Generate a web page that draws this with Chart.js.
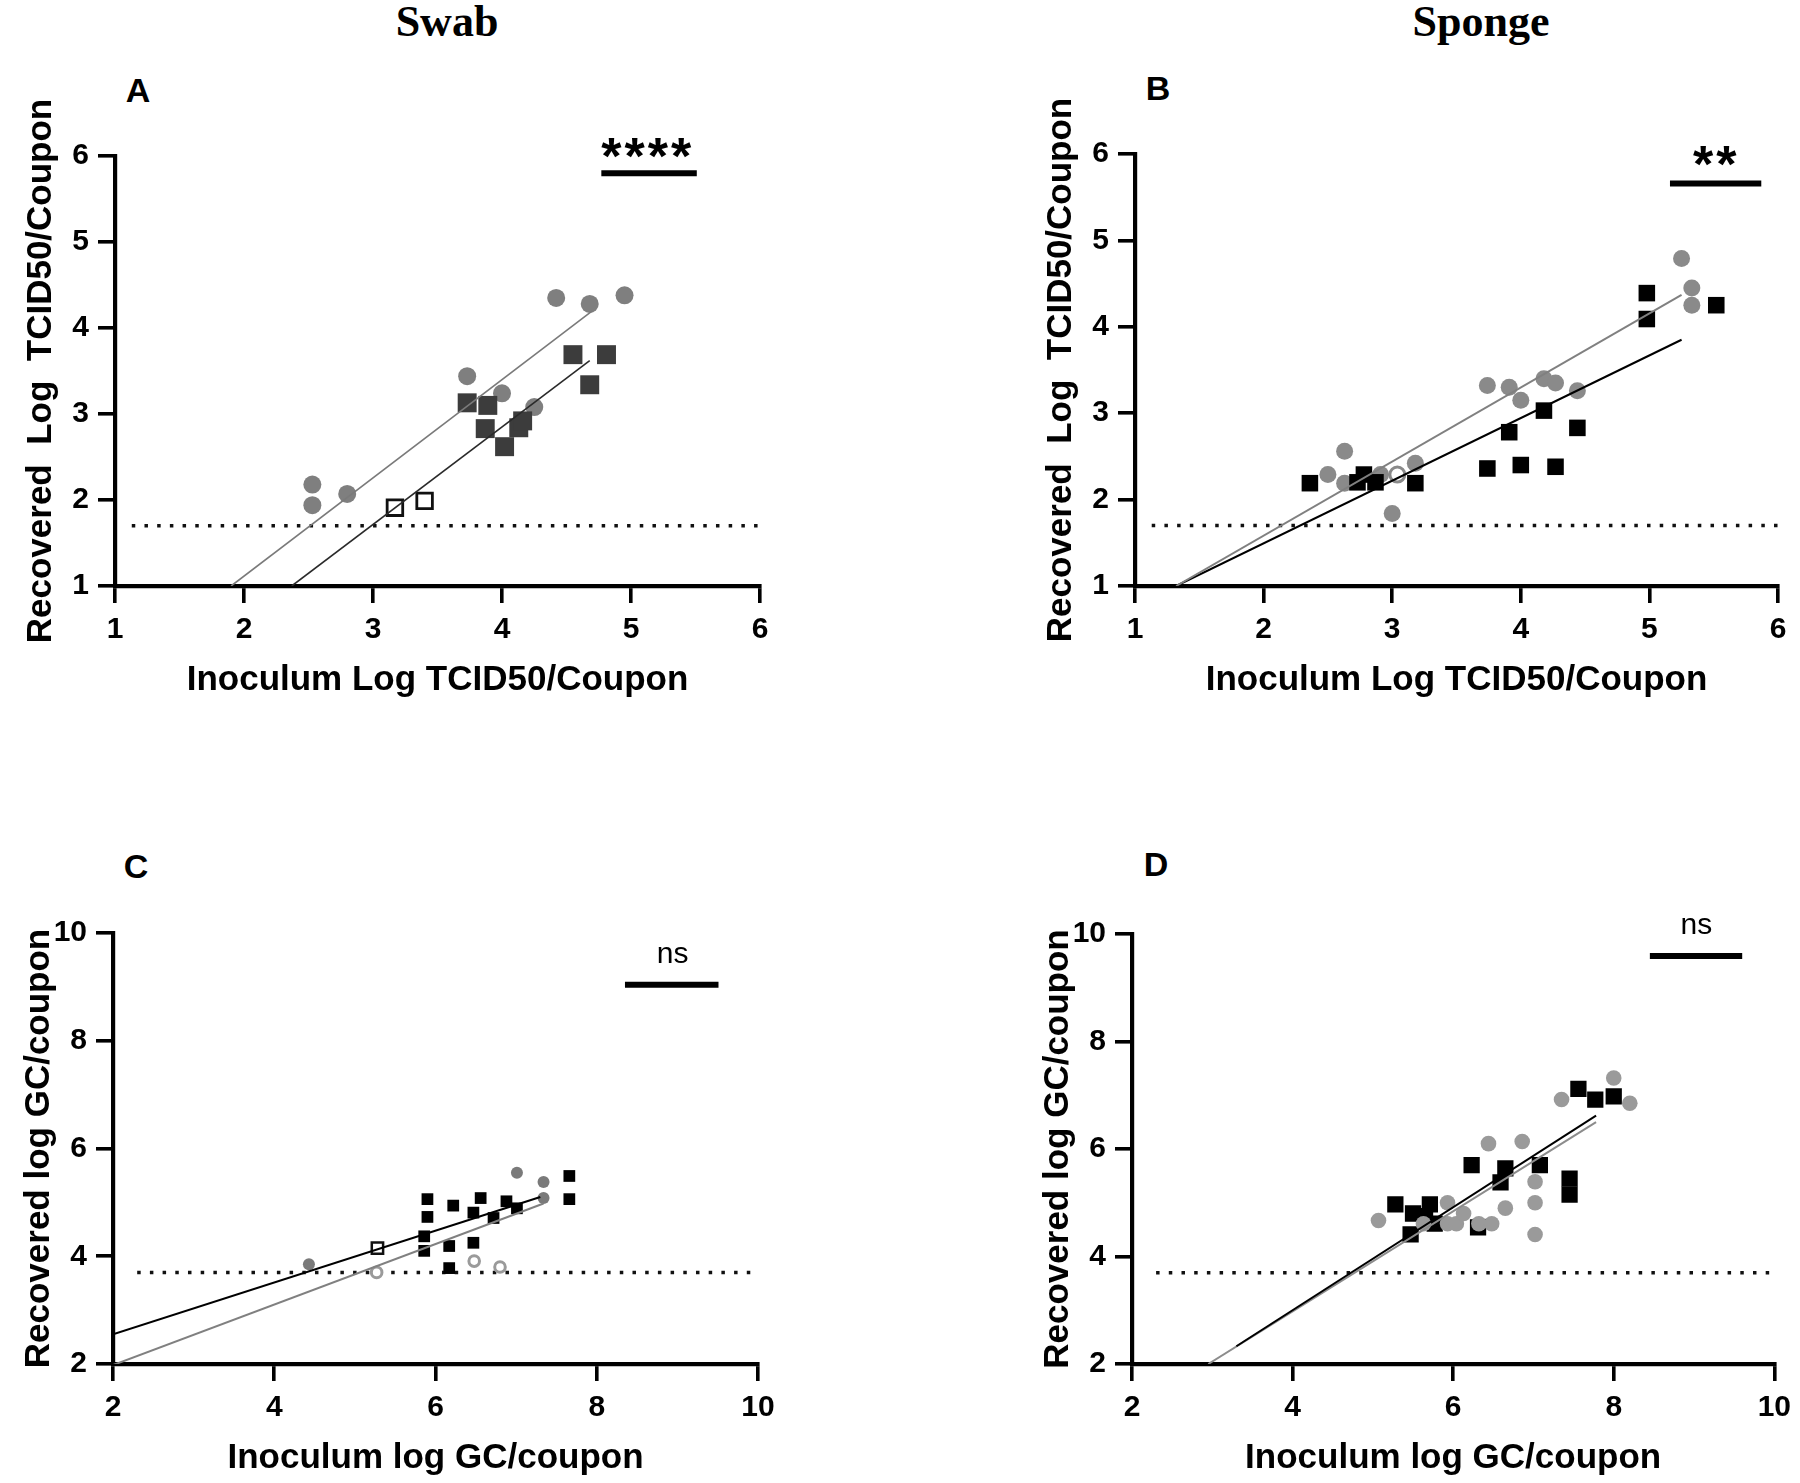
<!DOCTYPE html>
<html>
<head>
<meta charset="utf-8">
<script src="https://cdn.jsdelivr.net/npm/chart.js@4.4.0/dist/chart.umd.min.js"></script>
<style>
  html, body { margin: 0; padding: 0; background: #fff; }
  #page { position: relative; width: 1800px; height: 1483px; overflow: hidden; background: #fff; }
  canvas { position: absolute; }
  .head { position: absolute; font-family: 'Liberation Serif', 'Times New Roman', serif; font-weight: bold; font-size: 44px; line-height: 44px; transform: translateX(-50%); white-space: nowrap; }
  .letter { position: absolute; font-family: 'Liberation Sans', Arial, sans-serif; font-weight: bold; font-size: 34px; line-height: 34px; transform: translateX(-50%); }
</style>
</head>
<body>
<div id="page">
  <div class="head" style="left:447px; top:0px">Swab</div>
  <div class="head" style="left:1481px; top:0px">Sponge</div>
  <div class="letter" style="left:138px; top:73px">A</div>
  <div class="letter" style="left:1158px; top:71px">B</div>
  <div class="letter" style="left:136px; top:849px">C</div>
  <div class="letter" style="left:1156px; top:847px">D</div>
  <canvas id="chartA" width="900" height="741" style="left:0px; top:0px"></canvas>
  <canvas id="chartB" width="900" height="741" style="left:900px; top:0px"></canvas>
  <canvas id="chartC" width="900" height="742" style="left:0px; top:741px"></canvas>
  <canvas id="chartD" width="900" height="742" style="left:900px; top:741px"></canvas>
</div>
<script>
// A - swab, TCID50
const aCircleX = [2.53, 2.53, 2.80, 3.73, 4.00, 4.25, 4.42, 4.68, 4.95];
const aCircleY = [2.18, 1.94, 2.07, 3.44, 3.24, 3.08, 4.35, 4.28, 4.38];
const aSquareX = [3.73, 3.89, 3.87, 4.02, 4.13, 4.16, 4.55, 4.81, 4.68];
const aSquareY = [3.13, 3.10, 2.83, 2.62, 2.84, 2.92, 3.69, 3.69, 3.34];
const aOpenSquareX = [3.17, 3.40];
const aOpenSquareY = [1.91, 1.99];
const aGrayFitX = [1.90, 4.70];
const aGrayFitY = [1.00, 4.20];
const aDarkFitX = [2.37, 4.68];
const aDarkFitY = [1.00, 3.62];

// B - sponge, TCID50
const bCircleX = [2.50, 2.63, 2.63, 2.91, 3.18, 3.00, 3.74, 3.91, 4.00, 4.18, 4.27, 4.44, 5.25, 5.33, 5.33];
const bCircleY = [2.29, 2.56, 2.19, 2.29, 2.42, 1.84, 3.32, 3.30, 3.15, 3.40, 3.35, 3.26, 4.79, 4.45, 4.25];
const bOpenCircleX = [3.04];
const bOpenCircleY = [2.29];
const bSquareX = [2.36, 2.73, 2.78, 2.87, 3.18, 3.74, 4.00, 4.27, 3.91, 4.18, 4.44, 4.98, 4.98, 5.52];
const bSquareY = [2.19, 2.20, 2.29, 2.20, 2.19, 2.36, 2.40, 2.38, 2.78, 3.03, 2.83, 4.39, 4.09, 4.25];
const bGrayFitX = [1.32, 5.25];
const bGrayFitY = [1.00, 4.37];
const bBlackFitX = [1.32, 5.25];
const bBlackFitY = [1.00, 3.85];

// C - swab, GC
const cCircleX = [4.43, 7.01, 7.34, 7.34];
const cCircleY = [3.85, 5.55, 5.38, 5.08];
const cOpenCircleX = [5.27, 6.48, 6.80];
const cOpenCircleY = [3.70, 3.91, 3.80];
const cSquareX = [5.90, 5.90, 5.86, 5.86, 6.17, 6.17, 6.22, 6.47, 6.47, 6.56, 6.72, 6.88, 7.01, 7.66, 7.66];
const cSquareY = [5.06, 4.73, 4.37, 4.10, 4.19, 3.78, 4.94, 4.81, 4.25, 5.08, 4.71, 5.02, 4.89, 5.49, 5.06];
const cOpenSquareX = [5.28];
const cOpenSquareY = [4.15];
const cBlackFitX = [2.00, 7.30];
const cBlackFitY = [2.55, 5.10];
const cGrayFitX = [2.00, 7.34];
const cGrayFitY = [1.98, 4.98];

// D - sponge, GC
const dSquareX = [5.28, 5.47, 5.50, 5.71, 5.77, 5.65, 6.23, 6.31, 6.59, 6.65, 7.08, 7.45, 7.45, 7.56, 7.77, 8.00];
const dSquareY = [4.97, 4.41, 4.80, 4.97, 4.61, 4.75, 5.70, 4.54, 5.38, 5.64, 5.70, 5.45, 5.15, 7.12, 6.92, 6.98];
const dCircleX = [5.07, 5.63, 5.93, 5.93, 6.04, 6.13, 6.32, 6.48, 6.44, 6.65, 6.86, 7.02, 7.02, 7.02, 7.35, 8.00, 8.20];
const dCircleY = [4.67, 4.61, 5.00, 4.61, 4.61, 4.80, 4.61, 4.61, 6.10, 4.90, 6.14, 5.39, 5.00, 4.41, 6.92, 7.32, 6.85];
const dGrayFitX = [2.95, 7.78];
const dGrayFitY = [2.00, 6.50];
const dBlackFitX = [3.30, 7.78];
const dBlackFitY = [2.33, 6.62];

// detection limits (dotted)
const tcidLimitX = [1.13, 6.0];
const tcidLimitY = [1.7, 1.7];
const gcLimitX = [2.3, 10.0];
const gcLimitY = [3.7, 3.7];

const sans = "'Liberation Sans', Arial, sans-serif";
const tickFont = { family: sans, size: 30, weight: 'bold' };
const titleFont = { family: sans, size: 35, weight: 'bold' };

function pts(xs, ys) {
  return xs.map((x, i) => ({ x: x, y: ys[i] }));
}

function marks(xs, ys, style, radius, fill, stroke, bw) {
  return {
    data: pts(xs, ys),
    pointStyle: style,
    pointRadius: radius,
    pointHoverRadius: radius,
    pointBackgroundColor: fill,
    pointBorderColor: stroke,
    pointBorderWidth: bw,
    showLine: false
  };
}

function line(xs, ys, color, width, dash) {
  return {
    data: pts(xs, ys),
    showLine: true,
    fill: false,
    borderColor: color,
    borderWidth: width,
    borderDash: dash || [],
    pointRadius: 0,
    pointHoverRadius: 0
  };
}

// significance bar + stars above the plot
const sigPlugin = {
  id: 'sig',
  afterDraw(chart, args, opts) {
    if (!opts.text) return;
    const ctx = chart.ctx;
    const x = chart.scales.x, y = chart.scales.y;
    ctx.save();
    ctx.strokeStyle = '#000';
    ctx.lineWidth = 6;
    ctx.beginPath();
    ctx.moveTo(x.getPixelForValue(opts.x0), y.getPixelForValue(opts.barY));
    ctx.lineTo(x.getPixelForValue(opts.x1), y.getPixelForValue(opts.barY));
    ctx.stroke();
    ctx.fillStyle = '#000';
    ctx.font = opts.font;
    ctx.letterSpacing = opts.spacing || '0px';
    ctx.textAlign = 'center';
    ctx.textBaseline = 'alphabetic';
    ctx.fillText(opts.text, x.getPixelForValue(opts.textX), y.getPixelForValue(opts.textY) + opts.shift);
    ctx.restore();
  }
};

function axis(min, max, step, title, isX) {
  return {
    type: 'linear',
    min: min,
    max: max,
    ticks: { stepSize: step, padding: 9, color: '#000', font: tickFont, maxRotation: 0, autoSkip: false },
    grid: { drawOnChartArea: false, drawTicks: true, tickLength: 17, lineWidth: 3.6, color: '#000' },
    border: { display: true, width: 4.2, color: '#000' },
    title: { display: true, text: title, color: '#000', font: titleFont,
             padding: isX ? { top: 0, bottom: 0 } : { top: 15, bottom: 0 } },
    afterFit(scale) {
      if (isX) scale.height = 115; else scale.width = 110;
    }
  };
}

function makePanel(id, datasets, padding, xr, yr, xTitle, yTitle, sig) {
  new Chart(document.getElementById(id), {
    type: 'scatter',
    data: { datasets: datasets },
    options: {
      responsive: false,
      animation: false,
      devicePixelRatio: 1,
      layout: { autoPadding: false, padding: padding },
      plugins: { legend: { display: false }, tooltip: { enabled: false }, sig: sig },
      scales: {
        x: axis(xr[0], xr[1], xr[2], xTitle, true),
        y: axis(yr[0], yr[1], yr[2], yTitle, false)
      }
    },
    plugins: [sigPlugin]
  });
}

const dots = [3.5, 9.2];
const stars = "bold 52px " + sans;
const nsFont = "30px " + sans;

makePanel('chartA', [
  line(aGrayFitX, aGrayFitY, '#7a7a7a', 1.6),
  line(aDarkFitX, aDarkFitY, '#2a2a2a', 1.6),
  marks(aOpenSquareX, aOpenSquareY, 'rect', 11, '#fff', '#111', 2.8),
  marks(aSquareX, aSquareY, 'rect', 13.4, '#3c3c3c', '#3c3c3c', 0),
  marks(aCircleX, aCircleY, 'circle', 9, '#7f7f7f', '#7f7f7f', 0),
  line(tcidLimitX, tcidLimitY, '#111', 3.5, dots)
], { left: 5, top: 156, right: 140, bottom: 40 }, [1, 6, 1], [1, 6, 1],
  'Inoculum Log TCID50/Coupon', 'Recovered  Log  TCID50/Coupon',
  { text: '****', font: stars, spacing: '3px', textX: 5.13, textY: 6.14, shift: 30, x0: 4.77, x1: 5.51, barY: 5.80 });

makePanel('chartB', [
  line(bGrayFitX, bGrayFitY, '#808080', 2),
  line(bBlackFitX, bBlackFitY, '#000', 2),
  marks(bOpenCircleX, bOpenCircleY, 'circle', 7.5, '#fff', '#8a8a8a', 3),
  marks(bSquareX, bSquareY, 'rect', 11.7, '#000', '#000', 0),
  marks(bCircleX, bCircleY, 'circle', 8.5, '#8a8a8a', '#8a8a8a', 0),
  line(tcidLimitX, tcidLimitY, '#111', 3.5, dots)
], { left: 125, top: 154, right: 22, bottom: 40 }, [1, 6, 1], [1, 6, 1],
  'Inoculum Log TCID50/Coupon', 'Recovered  Log  TCID50/Coupon',
  { text: '**', font: stars, spacing: '3px', textX: 5.52, textY: 6.02, shift: 30, x0: 5.16, x1: 5.87, barY: 5.66 });

makePanel('chartC', [
  line(cBlackFitX, cBlackFitY, '#000', 2),
  line(cGrayFitX, cGrayFitY, '#808080', 2),
  marks(cOpenSquareX, cOpenSquareY, 'rect', 8, '#fff', '#111', 2.5),
  marks(cSquareX, cSquareY, 'rect', 8.3, '#000', '#000', 0),
  marks(cOpenCircleX, cOpenCircleY, 'circle', 5.3, '#fff', '#9a9a9a', 3),
  marks(cCircleX, cCircleY, 'circle', 6, '#7a7a7a', '#7a7a7a', 0),
  line(gcLimitX, gcLimitY, '#111', 3.5, dots)
], { left: 3, top: 192, right: 142, bottom: 4 }, [2, 10, 2], [2, 10, 2],
  'Inoculum log GC/coupon', 'Recovered log GC/coupon',
  { text: 'ns', font: nsFont, spacing: '0px', textX: 8.94, textY: 9.59, shift: 8, x0: 8.35, x1: 9.51, barY: 9.04 });

makePanel('chartD', [
  line(dBlackFitX, dBlackFitY, '#000', 2),
  line(dGrayFitX, dGrayFitY, '#8c8c8c', 2),
  marks(dCircleX, dCircleY, 'circle', 7.8, '#9a9a9a', '#9a9a9a', 0),
  marks(dSquareX, dSquareY, 'rect', 11.5, '#000', '#000', 0),
  line(gcLimitX, gcLimitY, '#111', 3.5, dots)
], { left: 122, top: 193, right: 22, bottom: 4 }, [2, 10, 2], [2, 10, 2],
  'Inoculum log GC/coupon', 'Recovered log GC/coupon',
  { text: 'ns', font: nsFont, spacing: '0px', textX: 9.03, textY: 10.15, shift: 8, x0: 8.45, x1: 9.60, barY: 9.59 });
</script>
</body>
</html>
